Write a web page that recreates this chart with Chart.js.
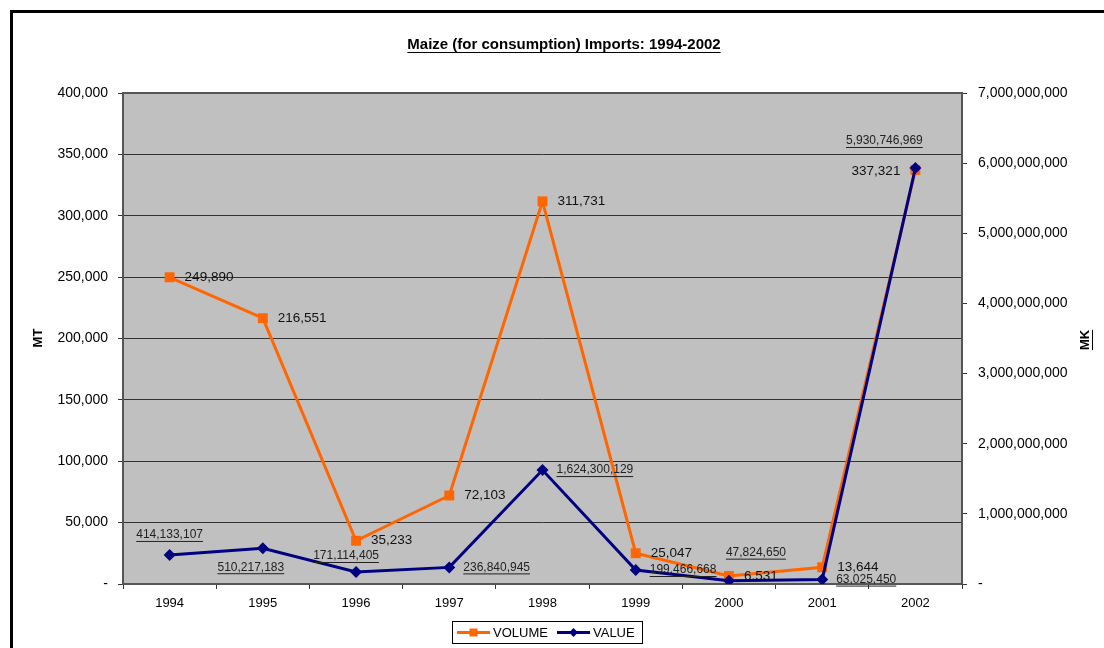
<!DOCTYPE html>
<html>
<head>
<meta charset="utf-8">
<script src="https://cdn.jsdelivr.net/npm/chart.js@4/dist/chart.umd.min.js"></script>
<style>
html,body{margin:0;padding:0;background:#fff;}
canvas{display:block;}
</style>
</head>
<body>
<canvas id="c" width="1104" height="648"></canvas>
<script>
const title = 'Maize (for consumption) Imports: 1994-2002';
const years = ['1994','1995','1996','1997','1998','1999','2000','2001','2002'];
const volumeMT = [249890, 216551, 35233, 72103, 311731, 25047, 6531, 13644, 337321];
const valueMK = [414133107, 510217183, 171114405, 236840945, 1624300129, 199466668, 47824650, 63025450, 5930746969];
const leftTicks = {min: 0, max: 400000, step: 50000};
const rightTicks = {min: 0, max: 7000000000, step: 1000000000};

// label placement styles (pixel offsets relative to the point)
const volLabelPos = [[15,0,'left'],[15,0,'left'],[15,0,'left'],[15,0,'left'],[15,0,'left'],[15,0,'left'],[15,0,'left'],[15,0,'left'],[-15,1,'right']];
const valLabelPos = [[0,-20,'center'],[-12,19,'center'],[-10,-16,'center'],[14,0,'left'],[14,0,'left'],[14,0,'left'],[27,-28,'center'],[14,0,'left'],[-31,-27,'center']];

const FONT = '"Liberation Sans", Arial, sans-serif';
const fmt = v => v === 0 ? '-' : Number(v).toLocaleString('en-US');

const ORANGE = '#ff6600', NAVY = '#000080';

const decor = {
  id: 'decor',
  beforeDraw(chart) {
    const ctx = chart.ctx, a = chart.chartArea;
    ctx.save();
    ctx.fillStyle = '#fff';
    ctx.fillRect(0, 0, chart.width, chart.height);
    // outer frame
    ctx.fillStyle = '#000';
    ctx.fillRect(10, 10, chart.width - 10, 3);
    ctx.fillRect(10, 10, 3, chart.height - 10);
    // plot background
    ctx.fillStyle = '#c0c0c0';
    ctx.fillRect(a.left, a.top, a.right - a.left, a.bottom - a.top);
    ctx.restore();
  },
  beforeDatasetsDraw(chart) {
    const ctx = chart.ctx, a = chart.chartArea;
    ctx.save();
    ctx.strokeStyle = '#555';
    ctx.lineWidth = 2;
    ctx.strokeRect(a.left, a.top, a.right - a.left, a.bottom - a.top);
    ctx.restore();
  },
  afterDraw(chart) {
    const ctx = chart.ctx, a = chart.chartArea;
    ctx.save();
    // title
    ctx.font = 'bold 15px ' + FONT;
    ctx.fillStyle = '#000';
    ctx.textAlign = 'center';
    ctx.textBaseline = 'middle';
    const tx = 564, ty = 45;
    ctx.fillText(title, tx, ty);
    let tw = ctx.measureText(title).width;
    ctx.fillRect(tx - tw / 2, ty + 7, tw, 1);
    // axis titles
    ctx.font = 'bold 13px ' + FONT;
    ctx.save();
    ctx.translate(38, 338);
    ctx.rotate(-Math.PI / 2);
    ctx.fillText('MT', 0, 0);
    ctx.restore();
    ctx.save();
    ctx.translate(1085, 340);
    ctx.rotate(-Math.PI / 2);
    ctx.fillText('MK', 0, 0);
    tw = ctx.measureText('MK').width;
    ctx.fillRect(-tw / 2, 7, tw, 1);
    ctx.restore();

    // data labels
    const metaVol = chart.getDatasetMeta(0), metaVal = chart.getDatasetMeta(1);
    ctx.textBaseline = 'middle';
    ctx.fillStyle = '#111';
    ctx.font = '13.5px ' + FONT;
    metaVol.data.forEach((p, i) => {
      const [dx, dy, al] = volLabelPos[i];
      ctx.textAlign = al;
      ctx.fillText(fmt(volumeMT[i]), p.x + dx, p.y + dy);
    });
    ctx.font = '12px ' + FONT;
    ctx.fillStyle = '#222';
    metaVal.data.forEach((p, i) => {
      const [dx, dy, al] = valLabelPos[i];
      const s = fmt(valueMK[i]);
      ctx.textAlign = al;
      const x = p.x + dx, y = p.y + dy;
      ctx.fillText(s, x, y);
      const w = ctx.measureText(s).width;
      const x0 = al === 'left' ? x : al === 'right' ? x - w : x - w / 2;
      ctx.fillRect(x0, y + 6, w, 1);
    });

    // legend
    const lx = 452.5, ly = 621.5, lw = 190, lh = 22;
    ctx.fillStyle = '#fff';
    ctx.fillRect(lx, ly, lw, lh);
    ctx.strokeStyle = '#000';
    ctx.lineWidth = 1;
    ctx.strokeRect(lx, ly, lw, lh);
    const cy = ly + lh / 2;
    const items = [
      {label: chart.data.datasets[0].label, color: ORANGE, style: 'rect', x0: 457},
      {label: chart.data.datasets[1].label, color: NAVY, style: 'rectRot', x0: 557}
    ];
    ctx.font = '13px ' + FONT;
    ctx.textAlign = 'left';
    ctx.textBaseline = 'middle';
    items.forEach(it => {
      ctx.strokeStyle = it.color;
      ctx.lineWidth = 3;
      ctx.beginPath();
      ctx.moveTo(it.x0, cy);
      ctx.lineTo(it.x0 + 33, cy);
      ctx.stroke();
      ctx.fillStyle = it.color;
      const mx = it.x0 + 16.5;
      if (it.style === 'rect') {
        ctx.fillRect(mx - 4, cy - 4, 8, 8);
      } else {
        ctx.beginPath();
        ctx.moveTo(mx, cy - 4.5); ctx.lineTo(mx + 4.5, cy); ctx.lineTo(mx, cy + 4.5); ctx.lineTo(mx - 4.5, cy); ctx.closePath();
        ctx.fill();
      }
      ctx.fillStyle = '#000';
      ctx.fillText(it.label, it.x0 + 36, cy + 0.5);
    });
    ctx.restore();
  }
};

new Chart(document.getElementById('c'), {
  type: 'line',
  data: {
    labels: years,
    datasets: [
      {
        label: 'VOLUME', data: volumeMT, yAxisID: 'y', order: 1,
        borderColor: ORANGE, backgroundColor: ORANGE, borderWidth: 3,
        pointStyle: 'rect', pointRadius: 7, pointBackgroundColor: ORANGE, pointBorderColor: ORANGE, pointBorderWidth: 0,
        tension: 0, fill: false
      },
      {
        label: 'VALUE', data: valueMK, yAxisID: 'y1', order: 0,
        borderColor: NAVY, backgroundColor: NAVY, borderWidth: 3,
        pointStyle: 'rectRot', pointRadius: 6, pointBackgroundColor: NAVY, pointBorderColor: NAVY, pointBorderWidth: 0,
        tension: 0, fill: false
      }
    ]
  },
  options: {
    responsive: false,
    animation: false,
    devicePixelRatio: 1,
    layout: {padding: {top: 93, bottom: 34, left: 0, right: 0}},
    plugins: {legend: {display: false}, title: {display: false}, tooltip: {enabled: false}},
    scales: {
      x: {
        type: 'category', offset: true,
        grid: {offset: true, drawOnChartArea: false, drawTicks: true, tickLength: 5, color: '#333', lineWidth: 1},
        border: {display: false},
        ticks: {color: '#000', font: {family: FONT, size: 13}, padding: 7, maxRotation: 0},
        afterFit(s) { s.height = 30; }
      },
      y: {
        position: 'left', min: leftTicks.min, max: leftTicks.max,
        ticks: {stepSize: leftTicks.step, color: '#000', font: {family: FONT, size: 14}, padding: 10, callback: v => fmt(v)},
        grid: {color: '#333', lineWidth: 1, drawTicks: true, tickLength: 5},
        border: {display: false},
        afterFit(s) { s.width = 123; }
      },
      y1: {
        position: 'right', min: rightTicks.min, max: rightTicks.max,
        ticks: {stepSize: rightTicks.step, color: '#000', font: {family: FONT, size: 14}, padding: 11, callback: v => fmt(v)},
        grid: {drawOnChartArea: false, drawTicks: true, tickLength: 5, color: '#333'},
        border: {display: false},
        afterFit(s) { s.width = 142; }
      }
    }
  },
  plugins: [decor]
});
</script>
</body>
</html>
